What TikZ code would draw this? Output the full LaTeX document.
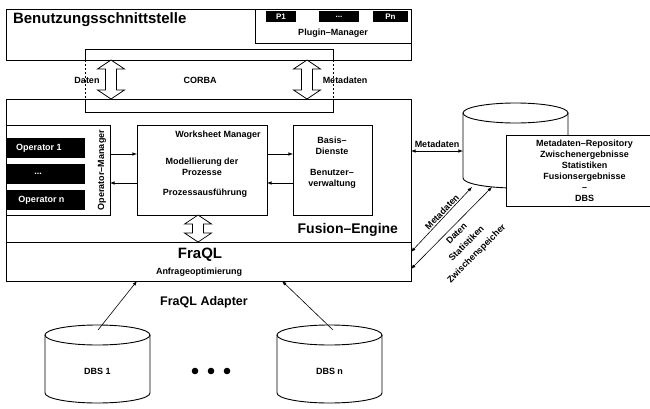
\documentclass[tikz,border=0pt]{standalone}
\usepackage{fontspec}
\setmainfont{Liberation Sans}
\begin{document}
\begin{tikzpicture}[x=1pt, y=1pt]
\tikzset{ >=latex, inner sep=0pt, outer sep=0pt,
  box/.style={draw, line width=0.9pt, fill=white},
  blk/.style={fill=black, text=white, font=\bfseries\fontsize{8}{10}\selectfont},
  lbl/.style={font=\bfseries\fontsize{9}{11}\selectfont, align=center},
  big/.style={font=\bfseries\fontsize{15}{18}\selectfont},
  link/.style={line width=0.6pt},
  pics/dblarrow/.style={code={
    \draw [line width=0.7pt, fill=white] (0,#1) -- (13.5,#1-9) -- (5.5,#1-9) -- (5.5,-#1+9)
      -- (13.5,-#1+9) -- (0,-#1) -- (-13.5,-#1+9) -- (-5.5,-#1+9) -- (-5.5,#1-9)
      -- (-13.5,#1-9) -- cycle;}},
}
\clip (0,0) rectangle (650,408);

%\draw [lightgray, dashed](0,0) grid (650,408);

% Benutzungsschnittstelle
\node [box, minimum width=405pt, minimum height=51pt] (UI) at (208.5,373.5) {};
\node [big, anchor=west] (UIt) at (13,388) {Benutzungsschnittstelle};
\node [box, minimum width=156pt, minimum height=34pt] (PM) at (333,382) {};
\node [blk, minimum width=30pt, minimum height=11pt] (P1) at (281,391.5) {P1};
\node [blk, minimum width=40pt, minimum height=11pt] (Pd) at (339,391.5) {...};
\node [blk, minimum width=35pt, minimum height=11pt] (Pn) at (390.5,391.5) {Pn};
\node [lbl] (PMt) at (333,375) {Plugin–Manager};

% Fusion-Engine und FraQL
\node [box, minimum width=405pt, minimum height=143pt] (FE) at (208.5,237.5) {};
\node [box, minimum width=405pt, minimum height=39pt] (FQ) at (208.5,146.5) {};

% CORBA
\draw [line width=0.9pt] (85,348) -- (85,359) -- (333,359) -- (333,348);
\draw [line width=0.9pt] (85,309) -- (85,296) -- (333,296) -- (333,309);
\draw [line width=0.6pt, dash pattern=on 2pt off 2pt] (85,348) -- (85,309);
\draw [line width=0.6pt, dash pattern=on 2pt off 2pt] (333,348) -- (333,309);
\pic at (111,328.5) {dblarrow=19.5};
\pic at (307,328.5) {dblarrow=19.5};
\node [lbl] (Dl) at (87,328) {Daten};
\node [lbl] (Cl) at (200,328) {CORBA};
\node [lbl] (Ml) at (345,328) {Metadaten};

% Operator-Manager
\node [box, minimum width=104pt, minimum height=90pt] (OM) at (58,238) {};
\node [blk, minimum width=79pt, minimum height=20pt] (O1) at (45.5,260) {};
\node [blk, minimum width=79pt, minimum height=20pt] (Od) at (45.5,234) {};
\node [blk, minimum width=79pt, minimum height=20pt] (On) at (45.5,208) {};
\node [lbl, text=white] (O1t) at (39,260) {Operator 1};
\node [lbl, text=white] (Odt) at (38,234) {...};
\node [lbl, text=white] (Ont) at (41.5,208) {Operator n};
\node [lbl, rotate=90] (OMt) at (102,238) {Operator–Manager};

% Worksheet Manager
\node [box, minimum width=130pt, minimum height=90pt] (WM) at (202,238) {};
\node [lbl] (WMt) at (218,273) {Worksheet Manager};
\node [lbl] (WMa) at (202,241.5) {Modellierung der\\Prozesse};
\node [lbl] (WMb) at (205,215) {Prozessausführung};

% Basisdienste
\node [box, minimum width=79pt, minimum height=90pt] (BD) at (332.5,238) {};
\node [lbl] (BDt) at (332,245) {Basis–\\Dienste\\[10pt]Benutzer–\\verwaltung};

\draw [link, ->] ([yshift=16pt]OM.east) -- ([yshift=16pt]WM.west);
\draw [link, <-] ([yshift=-13pt]OM.east) -- ([yshift=-13pt]WM.west);
\draw [link, ->] ([yshift=16pt]WM.east) -- ([yshift=16pt]BD.west);
\draw [link, <-] ([yshift=-13pt]WM.east) -- ([yshift=-13pt]BD.west);

\pic at (198,179.5) {dblarrow=13.5};

\node [font=\bfseries\fontsize{14}{17}\selectfont, anchor=east] (FEt) at (398,178) {Fusion–Engine};
\node [big] (FQt) at (200,153) {FraQL};
\node [lbl] (FQa) at (199,136) {Anfrageoptimierung};
\node [font=\bfseries\fontsize{12.5}{15}\selectfont] (FA) at (204,106) {FraQL Adapter};

% Datenbanken
\draw [line width=0.9pt, fill=white] (45,73) -- (45,15) arc (180:360:52.5pt and 10pt) -- (150,73);
\draw [line width=0.9pt] (97.5,73) ellipse (52.5pt and 10pt);
\draw [line width=0.9pt, fill=white] (277,73) -- (277,15) arc (180:360:52.5pt and 10pt) -- (382,73);
\draw [line width=0.9pt] (329.5,73) ellipse (52.5pt and 10pt);
\node [lbl] (DB1) at (97.5,37) {DBS 1};
\node [lbl] (DBn) at (329.5,37) {DBS n};
\foreach \x in {195,211,227} \fill (\x,37) circle (3.3pt);
\coordinate (DB1t) at (98,78);
\coordinate (DBnt) at (333,78);
\draw [link, ->] (DB1t) -- ([xshift=-71.5pt]FQ.south);
\draw [link, ->] (DBnt) -- ([xshift=73.5pt]FQ.south);

% Metadaten-Repository
\draw [line width=0.9pt, fill=white] (463,295) -- (463,230) arc (180:360:52.5pt and 10pt) -- (568,295);
\draw [line width=0.9pt] (515.5,295) ellipse (52.5pt and 10pt);
\node [box, lbl, minimum width=157pt, minimum height=71pt] (MR) at (584.5,237.5)
  {Metadaten–Repository\\Zwischenergebnisse\\Statistiken\\Fusionsergebnisse\\–\\DBS};
\coordinate (MRw) at (463,257);
\coordinate (MRa) at (472,221);
\coordinate (MRb) at (492,221);

\draw [link, <->] ([yshift=19.5pt]FE.east) -- (MRw);
\node [lbl] (MRl) at (437,264) {Metadaten};
\draw [link, <->] ([yshift=9.5pt]FQ.east) -- (MRa);
\draw [link, <->] ([yshift=-7.5pt]FQ.east) -- (MRb);
\node [lbl, rotate=46] (MDl) at (442,196) {Metadaten};
\node [lbl, rotate=45, font=\bfseries\fontsize{9}{14}\selectfont] (DSl) at (467,164)
  {Daten\\Statistiken\\Zwischenspeicher};

\end{tikzpicture}
\end{document}
